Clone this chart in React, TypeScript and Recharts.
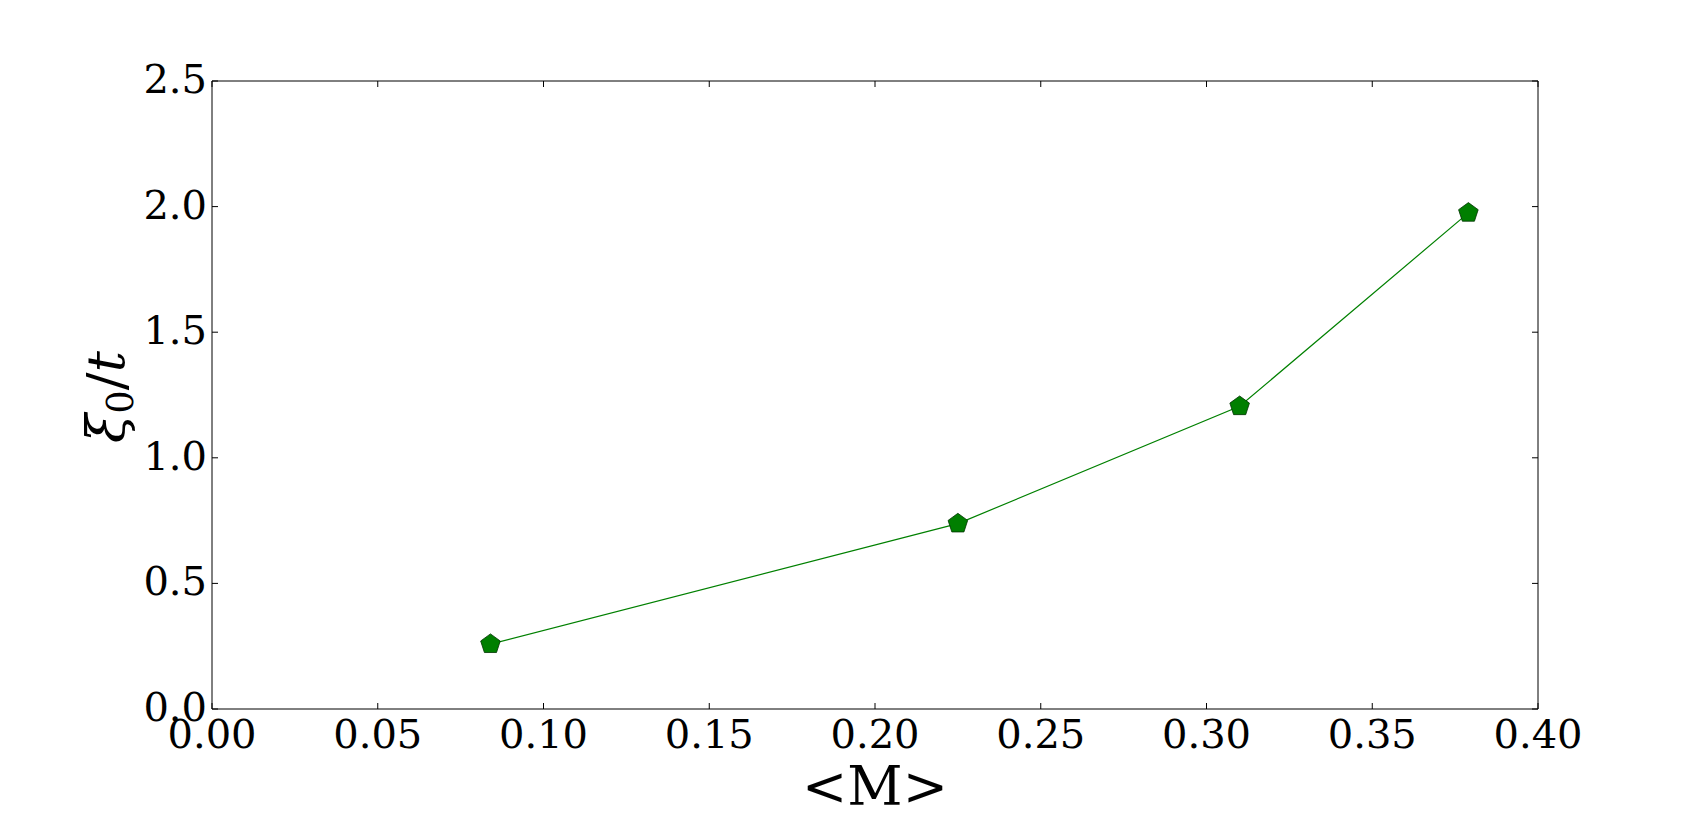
import React from "react";
import { LineChart, Line, XAxis, YAxis } from "recharts";

const mValues = [0.084, 0.225, 0.31, 0.379];
const xiValues = [0.258, 0.738, 1.205, 1.975];
const xTicks = [0, 0.05, 0.1, 0.15, 0.2, 0.25, 0.3, 0.35, 0.4];
const yTicks = [0, 0.5, 1.0, 1.5, 2.0, 2.5];

const data = mValues.map((m, i) => ({ x: m, y: xiValues[i] }));

const FONT = "'DejaVu Serif', serif";
const TL = 6;

const BottomTick = (props: any) => {
  const { x, y, payload } = props;
  return (
    <g>
      <line x1={x} y1={y} x2={x} y2={y - TL} stroke="#000" strokeWidth={1} />
      <text x={x} y={y + 39} textAnchor="middle" fontFamily={FONT} fontSize={40} fill="#000">
        {Number(payload.value).toFixed(2)}
      </text>
    </g>
  );
};

const TopTick = (props: any) => {
  const { x, y } = props;
  return <line x1={x} y1={y} x2={x} y2={y + TL} stroke="#000" strokeWidth={1} />;
};

const LeftTick = (props: any) => {
  const { x, y, payload } = props;
  return (
    <g>
      <line x1={x} y1={y} x2={x + TL} y2={y} stroke="#000" strokeWidth={1} />
      <text x={x - 5} y={y + 12} textAnchor="end" fontFamily={FONT} fontSize={40} fill="#000">
        {Number(payload.value).toFixed(1)}
      </text>
    </g>
  );
};

const RightTick = (props: any) => {
  const { x, y } = props;
  return <line x1={x} y1={y} x2={x - TL} y2={y} stroke="#000" strokeWidth={1} />;
};

const Pentagon = (props: any) => {
  const { cx, cy, key } = props;
  const R = 10.3;
  const pts: string[] = [];
  for (let i = 0; i < 5; i++) {
    const a = -Math.PI / 2 + (i * 2 * Math.PI) / 5;
    pts.push(`${cx + R * Math.cos(a)},${cy + R * Math.sin(a)}`);
  }
  return <polygon key={key} points={pts.join(" ")} fill="#007f00" stroke="#003300" strokeWidth={0.8} />;
};

export default function App() {
  return (
    <div style={{ position: "absolute", left: 0, top: 0, width: 1707, height: 813, background: "#fff" }}>
      <LineChart
        width={1707}
        height={813}
        data={data}
        margin={{ top: 0, left: 0, right: 0, bottom: 0 }}
      >
        <XAxis
          dataKey="x"
          type="number"
          domain={[0, 0.4]}
          ticks={xTicks}
          interval={0}
          allowDataOverflow
          height={104}
          tickLine={false}
          tickSize={0}
          tickMargin={0}
          axisLine={{ stroke: "#000", strokeWidth: 1 }}
          tick={<BottomTick />}
        />
        <XAxis
          xAxisId="top"
          orientation="top"
          dataKey="x"
          type="number"
          domain={[0, 0.4]}
          ticks={xTicks}
          interval={0}
          allowDataOverflow
          height={81}
          tickLine={false}
          tickSize={0}
          tickMargin={0}
          axisLine={{ stroke: "#000", strokeWidth: 1 }}
          tick={<TopTick />}
        />
        <YAxis
          type="number"
          domain={[0, 2.5]}
          ticks={yTicks}
          interval={0}
          allowDataOverflow
          width={212}
          tickLine={false}
          tickSize={0}
          tickMargin={0}
          axisLine={{ stroke: "#000", strokeWidth: 1 }}
          tick={<LeftTick />}
        />
        <YAxis
          yAxisId="right"
          orientation="right"
          type="number"
          domain={[0, 2.5]}
          ticks={yTicks}
          interval={0}
          allowDataOverflow
          width={169}
          tickLine={false}
          tickSize={0}
          tickMargin={0}
          axisLine={{ stroke: "#000", strokeWidth: 1 }}
          tick={<RightTick />}
        />
        <Line
          dataKey="y"
          stroke="#008000"
          strokeWidth={1.2}
          isAnimationActive={false}
          dot={(p: any) => <Pentagon {...p} key={p.key ?? p.index} />}
          activeDot={false}
        />
        <text x={875} y={805} textAnchor="middle" fontFamily={FONT} fontSize={54} fill="#000">
          {"<M>"}
        </text>
        <text
          x={124}
          y={397}
          textAnchor="middle"
          fontFamily={FONT}
          fontSize={53}
          fontStyle="italic"
          fill="#000"
          transform="rotate(-90, 124, 397)"
        >
          ξ<tspan fontStyle="normal" fontSize={37} dy={9}>0</tspan>
          <tspan fontStyle="normal" dy={-9}>/</tspan>t
        </text>
      </LineChart>
    </div>
  );
}
